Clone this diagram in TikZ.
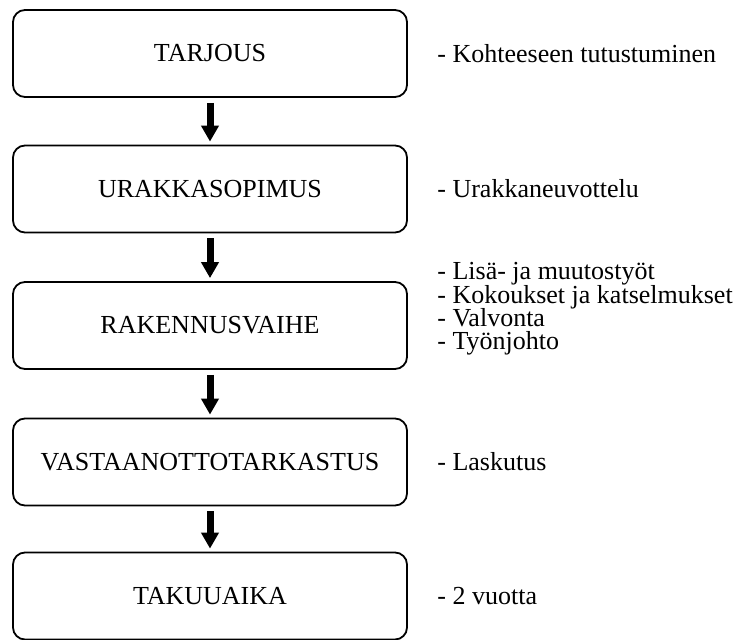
\documentclass[tikz,border=0pt]{standalone}
\usepackage{fontspec}
\setmainfont{Liberation Serif}
\usetikzlibrary{arrows.meta}
\newcommand{\notefont}{\fontsize{13}{11.6}\selectfont\setlength{\lineskiplimit}{-6pt}}

\begin{document}
\begin{tikzpicture}[x=0.5pt,y=-0.5pt]

% Styles
\tikzset{
    phase/.style={draw, line width=0.9pt, rounded corners=6pt,
        minimum width=197pt, minimum height=43.5pt,
        font=\fontsize{13}{15}\selectfont},
    note/.style={anchor=west, align=left, inner sep=3pt, font=\notefont},
    flow/.style={-{Triangle[width=8.5pt,length=8pt]}, line width=3.5pt,
        shorten <=2.5pt, shorten >=1.5pt}
}
\useasboundingbox (0,0) rectangle (743,640);

% Phases
\node[phase] (TAR) at (210,53.5){TARJOUS};
\node[phase] (URA) at (210,189){URAKKASOPIMUS};
\node[phase] (RAK) at (210,325.5){RAKENNUSVAIHE};
\node[phase] (VAS) at (210,462){VASTAANOTTOTARKASTUS};
\node[phase] (TAK) at (210,596){TAKUUAIKA};

% Flow
\draw[flow] (TAR.south) -- (URA.north);
\draw[flow] (URA.south) -- (RAK.north);
\draw[flow] (RAK.south) -- (VAS.north);
\draw[flow] (VAS.south) -- (TAK.north);

% Notes
\node[note] (nTAR) at (431,53.5){- Kohteeseen tutustuminen};
\node[note] (nURA) at (431,189){- Urakkaneuvottelu};
\node[note] (nRAK) at (431,309){- Lisä- ja muutostyöt\\- Kokoukset ja katselmukset\\- Valvonta\\- Työnjohto};
\node[note] (nVAS) at (431,462){- Laskutus};
\node[note] (nTAK) at (431,596){- 2 vuotta};
\end{tikzpicture}
\end{document}
